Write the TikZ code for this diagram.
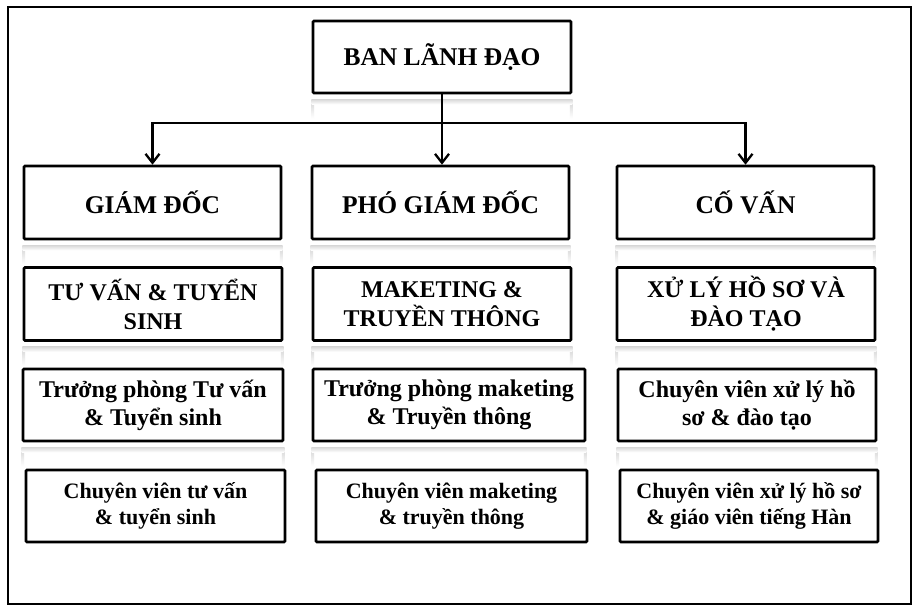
\documentclass[tikz,border=0pt]{standalone}
\usepackage{fontspec}
\setmainfont{Liberation Serif}
\usetikzlibrary{arrows.meta}
\tikzset{
  box/.style={draw, line width=2.6pt, rounded corners=1pt, align=center,
    inner sep=2pt, font=\bfseries\fontsize{24}{29}\selectfont},
  bigt/.style={font=\bfseries\fontsize{25.5}{30}\selectfont},
  midt/.style={font=\bfseries\fontsize{24}{29}\selectfont},
  lowt/.style={font=\bfseries\fontsize{24}{28}\selectfont},
  smlt/.style={font=\bfseries\fontsize{22}{25.5}\selectfont},
  conn/.style={line width=2.3pt},
  tipd/.style={-{Straight Barb[length=9pt,width=14pt,line width=2.3pt]}}
}
\newcommand{\mirr}[1]{%
  \shade[top color=gray!35, bottom color=white] ([yshift=-5pt]#1.south west) rectangle ([xshift=2.5pt,yshift=-24pt]#1.south west);
  \shade[top color=gray!35, bottom color=white] ([yshift=-5pt]#1.south east) rectangle ([xshift=-2.5pt,yshift=-24pt]#1.south east);
  \shade[top color=gray!30, bottom color=white] ([yshift=-5pt]#1.south west) rectangle ([yshift=-10pt]#1.south east);
}
\begin{document}
\begin{tikzpicture}[x=1pt,y=-1pt]
\useasboundingbox (0,0) rectangle (917,608);
\fill[white] (0,0) rectangle (917,608);
\draw[line width=2pt] (8,7) rectangle (911,604);
% top
\node[box, bigt, minimum width=258pt, minimum height=72pt] (top) at (442,57) {BAN LÃNH ĐẠO};
% row 1
\node[box, bigt, minimum width=257pt, minimum height=73pt] (g1) at (152.5,202.5) {GIÁM ĐỐC};
\node[box, bigt, minimum width=257pt, minimum height=73pt] (g2) at (440.5,202.5) {PHÓ GIÁM ĐỐC};
\node[box, bigt, minimum width=257pt, minimum height=73pt] (g3) at (745.5,202.5) {CỐ VẤN};
% row 2
\node[box, midt, minimum width=258pt, minimum height=73pt] (d1) at (153,304) {TƯ VẤN \& TUYỂN\\SINH};
\node[box, midt, minimum width=258pt, minimum height=73pt] (d2) at (442,304) {MAKETING \&\\TRUYỀN THÔNG};
\node[box, midt, minimum width=258pt, minimum height=73pt] (d3) at (746,304) {XỬ LÝ HỒ SƠ VÀ\\ĐÀO TẠO};
% row 3
\node[box, lowt, minimum width=260pt, minimum height=72pt] (t1) at (153,405) {Trưởng phòng Tư vấn\\\& Tuyển sinh};
\node[box, lowt, minimum width=272pt, minimum height=72pt] (t2) at (449,405) {Trưởng phòng maketing\\\& Truyền thông};
\node[box, lowt, minimum width=258pt, minimum height=72pt] (t3) at (747,405) {Chuyên viên xử lý hồ\\sơ \& đào tạo};
% row 4
\node[box, smlt, minimum width=259pt, minimum height=72pt] (c1) at (155.5,506) {Chuyên viên tư vấn\\\& tuyển sinh};
\node[box, smlt, minimum width=271pt, minimum height=72pt] (c2) at (451.5,506) {Chuyên viên maketing\\\& truyền thông};
\node[box, smlt, minimum width=258pt, minimum height=72pt] (c3) at (749,506) {Chuyên viên xử lý hồ sơ\\\& giáo viên tiếng Hàn};
% reflections
\mirr{top}
\mirr{g1}\mirr{g2}\mirr{g3}
\mirr{d1}\mirr{d2}\mirr{d3}
\mirr{t1}\mirr{t2}\mirr{t3}
% connectors
\coordinate (j) at (442,123);
\draw[conn, tipd] (top.south) -- (top.south |- g2.north);
\draw[conn, tipd] (j) -| (g1.north);
\draw[conn, tipd] (j) -| (g3.north);
\end{tikzpicture}
\end{document}
